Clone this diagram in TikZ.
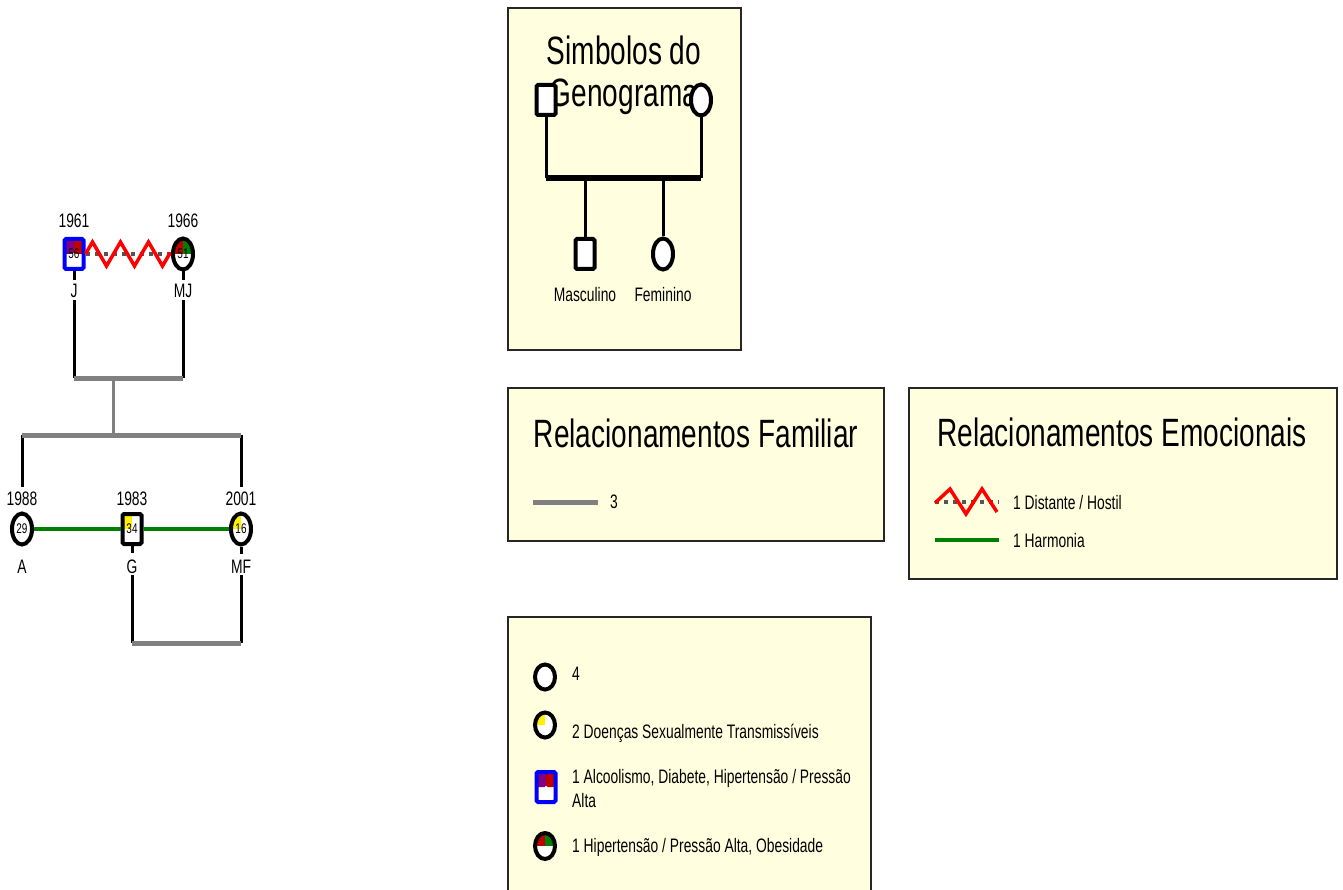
\documentclass[tikz,border=0pt]{standalone}
\usepackage{fontspec}
\setmainfont[FakeStretch=0.71]{Liberation Sans}
\usetikzlibrary{shapes.geometric}
\usetikzlibrary{decorations.pathmorphing}
\definecolor{legbg}{RGB}{255,255,224}
\definecolor{relgray}{RGB}{128,128,128}
\definecolor{harmgreen}{RGB}{0,128,0}
\definecolor{dred}{RGB}{192,0,0}
\definecolor{dpurple}{RGB}{128,0,128}
\definecolor{dotgray}{RGB}{85,85,85}
\begin{document}
\begin{tikzpicture}[line join=miter,x=1pt,y=-1pt,
  pers/.style={draw=black,line width=4pt,fill=white,inner sep=0pt,font=\fontsize{14}{14}\selectfont},
  male/.style={pers,rectangle,rounded corners=1.5pt,minimum width=19pt,minimum height=30pt},
  female/.style={pers,ellipse,minimum width=20pt,minimum height=31pt},
  quarters/.style 2 args={path picture={
      \fill[#1] (path picture bounding box.north west) rectangle (path picture bounding box.center);
      \fill[#2] (path picture bounding box.north) rectangle (path picture bounding box.east);}},
  lbl/.style={inner sep=0pt,anchor=base,font=\fontsize{19.5}{24}\selectfont},
  leglbl/.style={lbl,anchor=base west,align=left},
  boxtitle/.style={inner sep=0pt,anchor=base,font=\fontsize{39.5}{46}\selectfont},
  blk/.style={draw=black,line width=3pt},
  gline/.style={draw=relgray,line width=5pt},
  harmonia/.style={draw=harmgreen,line width=4pt},
  distante/.style={draw=dotgray,line width=4pt,dash pattern=on 4pt off 5pt},
  hostil/.style={draw=red,line width=3.5pt},
  legbox/.style={draw=black!85,line width=1.6pt,fill=legbg}]
  \useasboundingbox (0,0) rectangle (1343,890);

  \node[male,draw=blue,quarters={dpurple}{dred}] (J) at (74,254) {56};
  \node[female,quarters={dred}{harmgreen}] (MJ) at (183,254) {51};
  \node[female] (A) at (22,529) {29};
  \node[male,quarters={yellow}{white}] (G) at (132,529) {34};
  \node[female,quarters={yellow}{white}] (MF) at (241,529) {16};
  \node[lbl] (yJ) at (74,228) {1961};
  \node[lbl] (nJ) at (74,298) {J};
  \node[lbl] (yMJ) at (183,228) {1966};
  \node[lbl] (nMJ) at (183,298) {MJ};
  \node[lbl] (yA) at (22,505) {1988};
  \node[lbl] (nA) at (22,573) {A};
  \node[lbl] (yG) at (132,505) {1983};
  \node[lbl] (nG) at (132,573) {G};
  \node[lbl] (yMF) at (241,505) {2001};
  \node[lbl] (nMF) at (241,573) {MF};

  \coordinate (mJ) at (74,378);
  \coordinate (mMJ) at (183,378);
  \coordinate (fJ) at (113,378);
  \coordinate (fS) at (113,435);
  \coordinate (sA) at (22,435);
  \coordinate (sMF) at (241,435);
  \coordinate (mG) at (132,643);
  \coordinate (mMF) at (241,643);
  \draw[blk] (J.south) -- ++(0,9);
  \draw[blk] (MJ.south) -- ++(0,9);
  \draw[blk] (G.south) -- ++(0,7);
  \draw[blk] (MF.south) -- ++(0,7);
  \draw[blk] (nJ.south) ++(0,2) -- (mJ);
  \draw[blk] (nMJ.south) ++(0,2) -- (mMJ);
  \draw[blk] (yA.north) ++(0,-4) -- (sA);
  \draw[blk] (yMF.north) ++(0,-4) -- (sMF);
  \draw[blk] (nG.south) ++(0,2) -- (mG);
  \draw[blk] (nMF.south) ++(0,2) -- (mMF);
  \draw[gline] (mJ) -- (mMJ);
  \draw[gline,line width=3pt] (fJ) -- (fS);
  \draw[gline] (sA) -- (sMF);
  \draw[gline] (mG) -- (mMF);
  \draw[distante] (J) -- (MJ);
  \draw[hostil,decorate,decoration={zigzag,segment length=28pt,amplitude=12pt}] (J.east) -- (MJ.west);
  \draw[harmonia] (A) -- (G);
  \draw[harmonia] (G) -- (MF);

  \draw[legbox] (508,8) rectangle (741,350);
  \node[boxtitle] (t1a) at (624,65) {Simbolos do};
  \node[boxtitle] (t1b) at (624,107) {Genograma};
  \node[male] (sM) at (546,100) {};
  \node[female] (sF) at (701,100) {};
  \node[male] (sS) at (585,254) {};
  \node[female] (sD) at (663,254) {};
  \node[lbl] (lS) at (585,302) {Masculino};
  \node[lbl] (lD) at (663,302) {Feminino};
  \coordinate (b1) at (546,178);
  \coordinate (b2) at (701,178);
  \coordinate (bS) at (585,178);
  \coordinate (bD) at (663,178);
  \draw[blk] (sM) -- (b1);
  \draw[blk] (sF) -- (b2);
  \draw[blk] (bS) -- (sS);
  \draw[blk] (bD) -- (sD);
  \draw[blk,line width=5.5pt] (b1) -- (b2);

  \draw[legbox] (508,388) rectangle (884,541);
  \node[boxtitle] (t2) at (696,447) {Relacionamentos Familiar};
  \draw[gline] (533,502) -- (598,502);
  \node[leglbl] (l2) at (610,508) {3};

  \draw[legbox] (909,388) rectangle (1337,579);
  \node[boxtitle] (t3) at (1122,446) {Relacionamentos Emocionais};
  \draw[distante] (935,502) -- (999,502);
  \draw[hostil] (935,503) -- (950,489) -- (966,514) -- (982,489) -- (997,512);
  \node[leglbl] (l3a) at (1013,509) {1 Distante / Hostil};
  \draw[harmonia] (935,540) -- (999,540);
  \node[leglbl] (l3b) at (1013,547) {1 Harmonia};

  \draw[legbox] (508,617) rectangle (871,900);
  \node[female,minimum height=25pt] (k1) at (545,677) {};
  \node[female,minimum height=25pt,quarters={yellow}{white}] (k2) at (545,725) {};
  \node[male,draw=blue,quarters={dpurple}{dred}] (k3) at (546,787) {};
  \node[female,minimum height=26pt,quarters={dred}{harmgreen}] (k4) at (545,846) {};
  \node[leglbl] (l4a) at (572,680) {4};
  \node[leglbl] (l4b) at (572,738) {2 Doenças Sexualmente Transmissíveis};
  \node[leglbl] (l4c) at (572,783) {1 Alcoolismo, Diabete, Hipertensão / Pressão};
  \node[leglbl] (l4d) at (572,807) {Alta};
  \node[leglbl] (l4e) at (572,852) {1 Hipertensão / Pressão Alta, Obesidade};
\end{tikzpicture}
\end{document}
